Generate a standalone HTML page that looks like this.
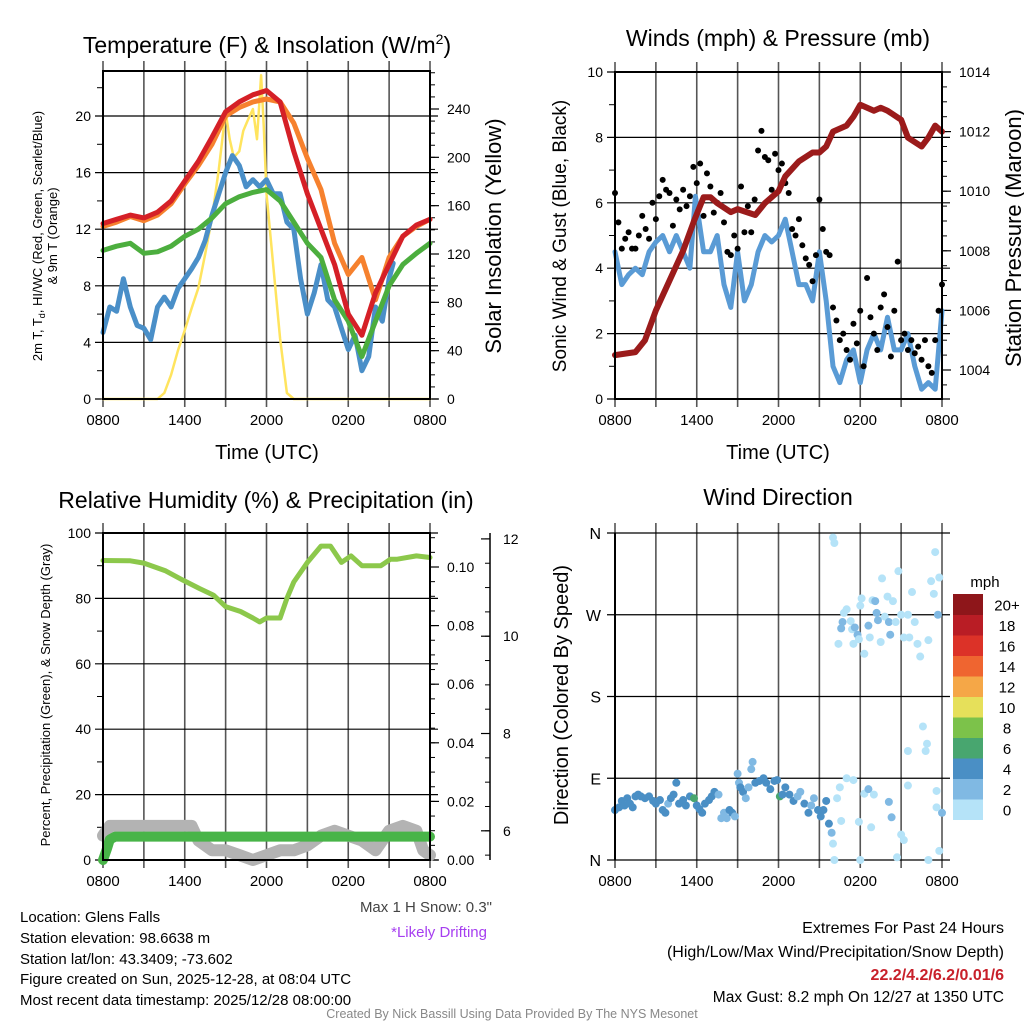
<!DOCTYPE html>
<html><head><meta charset="utf-8"><style>
html,body{margin:0;padding:0;background:#fff;}
svg{display:block;font-family:"Liberation Sans",Arial,sans-serif;}
</style></head><body>
<svg id="fig" width="1024" height="1024" viewBox="0 0 1024 1024" xmlns="http://www.w3.org/2000/svg">
<rect width="1024" height="1024" fill="#fff"/>
<g id="layer"></g>
<text x="267" y="53" font-size="23" text-anchor="middle">Temperature (F) &amp; Insolation (W/m<tspan font-size="14" dy="-9">2</tspan><tspan dy="9">)</tspan></text>
<text x="778" y="46" font-size="23" text-anchor="middle">Winds (mph) &amp; Pressure (mb)</text>
<text x="266" y="508" font-size="23" text-anchor="middle">Relative Humidity (%) &amp; Precipitation (in)</text>
<text x="778" y="505" font-size="23" text-anchor="middle">Wind Direction</text>
<text x="267" y="459" font-size="20" text-anchor="middle">Time (UTC)</text>
<text x="778" y="459" font-size="20" text-anchor="middle">Time (UTC)</text>
<text transform="translate(42,236) rotate(-90)" font-size="13" text-anchor="middle">2m T, T<tspan font-size="9" dy="3">d</tspan><tspan dy="-3">, HI/WC (Red, Green, Scarlet/Blue)</tspan></text>
<text transform="translate(57,236) rotate(-90)" font-size="13" text-anchor="middle">&amp; 9m T (Orange)</text>
<text transform="translate(501,236) rotate(-90)" font-size="22" text-anchor="middle">Solar Insolation (Yellow)</text>
<text transform="translate(566,236) rotate(-90)" font-size="19" text-anchor="middle">Sonic Wind &amp; Gust (Blue, Black)</text>
<text transform="translate(1021,238) rotate(-90)" font-size="22" text-anchor="middle">Station Pressure (Maroon)</text>
<text transform="translate(50,695) rotate(-90)" font-size="13" text-anchor="middle">Percent, Precipitation (Green), &amp; Snow Depth (Gray)</text>
<text transform="translate(568,695) rotate(-90)" font-size="20" text-anchor="middle">Direction (Colored By Speed)</text>
<text x="492" y="912" font-size="15" text-anchor="end" fill="#444">Max 1 H Snow: 0.3"</text>
<text x="487" y="937" font-size="15" text-anchor="end" fill="#a63ef0">*Likely Drifting</text>
<g font-size="15" fill="#000">
<text x="20" y="922">Location: Glens Falls</text>
<text x="20" y="943">Station elevation: 98.6638 m</text>
<text x="20" y="964">Station lat/lon: 43.3409; -73.602</text>
<text x="20" y="984">Figure created on Sun, 2025-12-28, at 08:04 UTC</text>
<text x="20" y="1005">Most recent data timestamp: 2025/12/28 08:00:00</text>
</g>
<g font-size="16" text-anchor="end">
<text x="1004" y="933">Extremes For Past 24 Hours</text>
<text x="1004" y="957">(High/Low/Max Wind/Precipitation/Snow Depth)</text>
<text x="1004" y="980" fill="#c8202a" font-weight="bold">22.2/4.2/6.2/0.01/6</text>
<text x="1004" y="1002" font-size="15.5">Max Gust: 8.2 mph On 12/27 at 1350 UTC</text>
</g>
<text x="512" y="1018" font-size="12.5" text-anchor="middle" fill="#888">Created By Nick Bassill Using Data Provided By The NYS Mesonet</text>
</svg>
<script>
// ---- Temperature panel data (hours after 0800 UTC) ----
const tempHours = [0,1,2,3,4,5,6,7,8,9,10,11,12,13,14,15,16,17,18,19,20,21,22,23,24];
const redT   = [12.4,12.7,13.0,12.8,13.2,14.0,15.4,16.8,18.5,20.3,21.0,21.5,21.8,21.0,17.5,14.5,12.0,9.5,6.0,4.5,7.5,9.5,11.5,12.3,12.7];
const orangeT= [12.2,12.5,12.9,12.6,13.0,13.8,15.2,16.5,18.0,20.0,20.6,21.0,21.2,21.0,19.5,17.0,14.8,11.0,8.8,10.0,7.0,10.0,11.5,12.2,12.7];
const greenT = [10.5,10.8,11.0,10.3,10.4,10.8,11.5,12.0,12.8,13.8,14.3,14.6,14.8,14.0,12.5,11.0,10.0,7.0,5.5,3.0,5.5,8.0,9.5,10.3,11.0];
const blueHours = [0,0.5,1,1.5,2,2.5,3,3.5,4,4.5,5,5.5,6,6.5,7,7.5,8,8.5,9,9.5,10,10.5,11,11.5,12,12.5,13,13.5,14,14.5,15,15.5,16,16.5,17,17.5,18,18.5,19,19.5,20,20.5,21,21.3];
const blueT  = [4.7,6.5,6.2,8.5,6.5,5.2,5.0,4.2,6.5,7.2,6.5,7.8,8.5,9.2,10.0,11.2,13.0,14.5,16.0,17.2,16.5,15.0,15.5,15.0,15.5,14.5,14.5,12.5,12.0,8.5,6.0,7.5,9.5,7.0,6.5,5.0,3.5,4.5,2.0,3.0,6.5,5.5,8.5,9.6];
const solarHours = [0,4,4.5,5,5.5,6,6.5,7,7.5,8,8.5,9,9.3,9.6,10,10.3,10.6,11,11.3,11.6,11.8,12,12.5,13,13.5,14,24];
const solarVal   = [0,0,5,20,40,57,75,92,120,150,190,238,215,200,205,222,230,240,215,268,225,170,110,50,5,0,0];
const tempTicks  = ["0","4","8","12","16","20"];
const solarTicks = ["0","40","80","120","160","200","240"];
const timeTicks  = ["0800","1400","2000","0200","0800"];
// ---- Winds panel data ----
const windHours = [0,0.5,1,1.5,2,2.5,3,3.5,4,4.5,5,5.5,5.9,6.5,7,7.5,8,8.5,9,9.5,10,10.5,11,11.5,12,12.5,13,13.5,14,14.5,15,15.5,16,16.5,17,17.5,18,18.5,19,19.5,20,20.5,21,21.5,22,22.5,23,23.5,24];
const windVal   = [4.5,3.5,3.8,4.0,3.8,4.5,4.8,5.0,4.5,5.0,4.5,4.0,6.2,4.5,4.5,5.0,3.5,2.8,4.5,3.0,3.5,4.5,5.0,4.8,5.0,5.5,4.5,3.5,3.5,3.0,4.5,3.0,1.0,0.5,1.2,1.5,0.5,1.5,2.0,1.5,2.5,1.5,1.5,2.0,1.0,0.3,0.5,0.3,2.7];
const gustVal = [6.3,5.4,4.6,4.9,5.1,4.6,4.6,5.0, 5.6,5.2,4.9,6.0,5.5,6.2,6.7,6.4, 6.3,5.3,6.1,5.8,6.4,5.9,6.2,7.1, 6.6,7.2,5.6,6.9,6.5,5.7,6.0,6.3, 5.4,4.5,4.4,5.0,4.6,6.5,5.1,5.9, 5.1,6.1,7.6,8.2,7.4,7.3,6.4,7.5, 7.0,7.2,6.6,6.3,5.2,5.0,5.5,4.7, 4.3,4.1,3.6,4.4,6.1,5.2,4.5,4.4, 2.8,2.4,1.8,2.0,1.5,1.2,2.3,1.7, 2.7,1.0,3.7,2.5,2.0,1.5,2.8,3.2, 2.2,1.3,2.7,4.2,1.8,2.0,1.5,1.8, 1.4,1.6,1.2,1.8,1.0,0.8,1.8,2.7,3.5];
const presHours = [0,1.5,2.2,3,4,5,5.8,6.5,7,7.5,8.5,9,10.3,11,12,12.5,13.5,14.5,15,15.5,16,17,17.5,18,19,19.5,20,21,21.5,22.5,23,23.5,24];
const presVal   = [1004.5,1004.6,1005,1006,1007,1008,1009,1009.8,1009.8,1009.6,1009.3,1009.4,1009.2,1009.6,1010.0,1010.5,1011,1011.3,1011.3,1011.5,1012,1012.2,1012.5,1012.9,1012.7,1012.8,1012.7,1012.4,1011.8,1011.5,1011.8,1012.2,1012.0];
const windTicks = ["0","2","4","6","8","10"];
const presTicks = ["1004","1006","1008","1010","1012","1014"];
// ---- RH panel data ----
const rhHours = [0,2,3,4.6,5.9,7.1,8.1,9.0,10.1,11.0,11.5,12.0,13.0,13.5,14.0,15.0,16.0,16.7,17.5,18.2,19.0,19.7,20.4,21.1,21.6,23.0,24.0];
const rhVal   = [91.6,91.5,90.8,88.4,85.5,83,81,77.5,76,74,72.8,74,74,80,85,91,96,96,91,93,90,90,90,92,92,93,92.5];
const precipHours = [0,0.3,0.5,0.9,24];
const precipVal   = [0,0.004,0.007,0.008,0.008];
const snowHours = [0,0.5,1,3,6.5,7,8,9,10,11,12,13,14,15,16,17,18,19,20,21,22,23,23.5,24];
const snowVal   = [5.9,6.1,6.1,6.1,6.1,5.8,5.6,5.6,5.5,5.4,5.5,5.6,5.6,5.7,5.9,6.0,5.9,5.8,5.6,6.0,6.1,6.0,5.6,5.5];
const rhTicks = ["0","20","40","60","80","100"];
const precipTicks = ["0.00","0.02","0.04","0.06","0.08","0.10"];
const snowTicks = ["6","8","10","12"];
// ---- Wind direction data ----
const dirHours = [0.0,0.3,0.5,0.7,0.9,1.1,1.3,1.5,1.7,1.9,2.2,2.5,2.8,3.0,3.3,3.5,3.7,3.9,4.1,4.3,4.5,4.7,5.0,5.2,5.5,5.8,6.0,6.2,6.4,6.6,6.9,7.1,7.3,7.6,7.8,8.0,8.2,8.4,8.6,8.8,9.0,9.1,9.2,9.4,9.6,9.8,10.0,10.1,10.3,10.6,10.9,11.1,11.4,11.7,11.9,12.1,12.3,12.5,12.8,13.1,13.4,13.6,13.9,14.2,14.4,14.6,14.9,15.1,15.3,15.5,15.7,15.9,16.0,16.1,16.3,16.5,16.6,17.0,17.5,17.9,18.0,18.3,18.6,18.8,19.0,20.1,20.3,20.7,21.0,21.2,21.5,21.5,23.0,23.8,24.0,23.6,23.6,
16.0,16.1,16.4,16.6,16.7,16.8,17.0,17.3,17.4,17.5,17.6,17.8,17.9,18.0,18.1,18.3,18.6,18.7,18.9,19.1,19.2,19.3,19.5,19.6,19.8,20.0,20.1,20.2,20.4,20.6,20.8,21.0,21.2,21.5,21.6,21.8,22.0,22.2,22.4,22.6,22.8,22.9,23.0,23.2,23.4,23.5,23.7,23.8];
const dirVal = [55,58,65,60,68,62,58,70,72,70,68,70,65,62,66,55,52,62,68,72,85,62,66,60,70,68,60,56,52,62,66,70,75,72,46,52,46,55,52,48,95,85,80,75,68,80,100,108,85,87,90,85,78,87,88,70,72,80,72,65,70,75,62,52,60,68,55,48,55,65,40,30,18,0,68,80,43,90,88,42,0,73,78,36,72,64,47,3,28,22,82,120,0,10,52,58,76,
355,349,238,255,262,272,276,263,254,238,256,248,243,280,288,227,258,245,286,285,272,264,240,310,268,290,262,248,285,262,318,270,245,270,245,295,262,238,224,147,120,128,242,307,293,339,270,311];
const dirSpeed = [4.5,4.5,4.5,4.5,4.5,4.5,4.5,4.5,4.5,4.5,4.5,4.5,4.5,4.5,4.5,4.5,4.5,2.5,4.5,4.5,4.5,4.5,4.5,4.5,4.5,6.5,4.5,4.5,4.5,4.5,4.5,4.5,4.5,2.5,2.5,2.5,2.5,4.5,4.5,2.5,2.5,2.5,4.5,4.5,2.5,2.5,2.5,2.5,4.5,4.5,4.5,4.5,4.5,4.5,4.5,6.5,4.5,4.5,4.5,4.5,2.5,2.5,4.5,4.5,2.5,2.5,4.5,4.5,4.5,4.5,4.5,2.5,1,1,1,1,1,1,1,1,1,1,2.5,1,1,2.5,2.5,1,1,1,1,1,1,1,2.5,1,1,
1,1,1,2.5,2.5,1,1,1,1,1,2.5,2.5,1,1,1,1,2.5,1,1,2.5,2.5,2.5,1,1,1,1,2.5,2.5,1,1,1,1,1,1,1,1,1,1,1,1,1,1,1,1,1,1,2.5,1];
const dirTicks = ["N","E","S","W","N"];
const speedBinLabels = ["0","2","4","6","8","10","12","14","16","18","20+"];
const speedBinColors = ["#b5e3f8","#80b9e3","#4a8fc5","#48a66f","#7cc24a","#e6e05a","#f5a747","#ef6530","#dc3228","#b91d25","#8e161a"];

const NS="http://www.w3.org/2000/svg";
const layer=document.getElementById('layer');
function mk(tag,attrs,parent){const e=document.createElementNS(NS,tag);for(const k in attrs)e.setAttribute(k,attrs[k]);(parent||layer).appendChild(e);return e;}
function txt(x,y,s,size,anchor,parent){const t=mk('text',{x:x,y:y,'font-size':size,'text-anchor':anchor||'middle'},parent);t.textContent=s;return t;}

function panel(name,x0,x1,y0,y1){
  const g=mk('g',{});
  
  
  const P={g,x0,x1,y0,y1,hx:h=>x0+h/24*(x1-x0)};
  // vertical grid every 3h
  for(let i=0;i<=8;i++){const x=x0+i*(x1-x0)/8;mk('line',{x1:x,y1:y0-10,x2:x,y2:y1+8,stroke:'#555','stroke-width':1.6},g);}
  timeTicks.forEach((s,i)=>txt(x0+i*(x1-x0)/4,y1+26,s,15,'middle',g));
  return P;
}
function hgrid(P,ys,extend){ys.forEach(y=>mk('line',{x1:P.x0-8,y1:y,x2:P.x1+(extend||8),y2:y,stroke:'#000','stroke-width':1.2},P.g));}
function frame(P){mk('rect',{x:P.x0,y:P.y0,width:P.x1-P.x0,height:P.y1-P.y0,fill:'none',stroke:'#000','stroke-width':2},P.g);}
function line(P,hs,vs,fy,color,w,name){
  const pts=hs.map((h,i)=>P.hx(h).toFixed(1)+','+fy(vs[i]).toFixed(1)).join(' ');
  const l=mk('polyline',{points:pts,fill:'none',stroke:color,'stroke-width':w,'stroke-linejoin':'round','stroke-linecap':'round'},P.g);
  
  
  return l;
}
function minorTicks(P,x,ys,dir,len){ys.forEach(y=>mk('line',{x1:x,y1:y,x2:x+dir*len,y2:y,stroke:'#000','stroke-width':1},P.g));}

// ===== Temperature panel =====
(function(){
  const P=panel('temperature-panel',103,430,71,399);
  const ty=v=>399-v*(399-116)/20;
  const sy=v=>399-v*(399-109)/240;
  hgrid(P,tempTicks.map(s=>ty(+s)));
  tempTicks.forEach(s=>txt(P.x0-12,ty(+s)+5,s,14,'end',P.g));
  const mt=[];for(let v=2;v<23;v+=4)mt.push(ty(v));minorTicks(P,P.x0,mt,-1,6);
  const ms=[];for(let v=10;v<272;v+=10)ms.push(sy(v));minorTicks(P,P.x1,ms,1,5);
  solarTicks.forEach(s=>{mk('line',{x1:P.x1,y1:sy(+s),x2:P.x1+9,y2:sy(+s),stroke:'#000','stroke-width':1.2},P.g);txt(P.x1+17,sy(+s)+5,s,14,'start',P.g);});
  line(P,solarHours,solarVal,sy,'#ffe45e',2.5,'solar-insolation-line');
  line(P,blueHours,blueT,ty,'#4a8fc8',5,'wind-chill-line');
  line(P,tempHours,greenT,ty,'#4cae3e',5,'dewpoint-line');
  line(P,tempHours,orangeT,ty,'#f6812e',5,'temp-9m-line');
  line(P,tempHours,redT,ty,'#d52027',5,'temp-2m-line');
  frame(P);
})();

// ===== Winds panel =====
(function(){
  const P=panel('winds-panel',615,942,72,399);
  const wy=v=>399-v*(399-72)/10;
  const py=v=>72+(1014-v)*29.8;
  hgrid(P,windTicks.map(s=>wy(+s)));
  windTicks.forEach(s=>txt(P.x0-12,wy(+s)+5,s,14,'end',P.g));
  const mw=[];for(let v=1;v<10;v+=2)mw.push(wy(v));minorTicks(P,P.x0,mw,-1,6);
  const mp=[];for(let v=1003.5;v<1014;v+=0.5)mp.push(py(v));minorTicks(P,P.x1,mp,1,5);
  presTicks.forEach(s=>{mk('line',{x1:P.x1,y1:py(+s),x2:P.x1+9,y2:py(+s),stroke:'#000','stroke-width':1.2},P.g);txt(P.x1+17,py(+s)+5,s,14,'start',P.g);});
  line(P,windHours,windVal,wy,'#5a9bd5',5,'sonic-wind-line');
  gustVal.forEach((v,i)=>{
    const c=mk('circle',{cx:P.hx(i*0.25),cy:wy(v),r:3,fill:'#000'},P.g);
    
    
  });
  line(P,presHours,presVal,py,'#9b1b1b',6,'pressure-line');
  frame(P);
})();

// ===== RH panel =====
(function(){
  const P=panel('humidity-panel',103,430,533,860);
  const ry=v=>860-v*(860-533)/100;
  const pcy=v=>860-v*2930;
  const sny=v=>860-(v-5.4)*48.65;
  hgrid(P,rhTicks.map(s=>ry(+s)));
  rhTicks.forEach(s=>txt(P.x0-12,ry(+s)+5,s,14,'end',P.g));
  const mr=[];for(let v=10;v<100;v+=20)mr.push(ry(v));minorTicks(P,P.x0,mr,-1,6);
  const mpc=[];for(let v=0.005;v<0.112;v+=0.005)mpc.push(pcy(v));minorTicks(P,P.x1,mpc,1,5);
  precipTicks.forEach(s=>{mk('line',{x1:P.x1,y1:pcy(+s),x2:P.x1+9,y2:pcy(+s),stroke:'#000','stroke-width':1.2},P.g);txt(P.x1+17,pcy(+s)+5,s,14,'start',P.g);});
  const ax=490;
  mk('line',{x1:ax,y1:533,x2:ax,y2:860,stroke:'#000','stroke-width':1.5},P.g);
  const msn=[];for(let v=5.5;v<12.1;v+=0.5)msn.push(sny(v));minorTicks(P,ax,msn,-1,5);
  snowTicks.forEach(s=>{mk('line',{x1:ax,y1:sny(+s),x2:ax-9,y2:sny(+s),stroke:'#000','stroke-width':1.2},P.g);txt(ax+13,sny(+s)+5,s,14,'start',P.g);});
  line(P,snowHours,snowVal,sny,'#b3b3b3',12,'snow-depth-line');
  line(P,rhHours,rhVal,ry,'#8cc84b',5,'relative-humidity-line');
  line(P,precipHours,precipVal,pcy,'#48b448',10,'precipitation-line');
  frame(P);
})();

// ===== Wind direction panel =====
(function(){
  const P=panel('wind-direction-panel',615,942,533,860);
  const dy=v=>860-v/360*(860-533);
  hgrid(P,dirTicks.map((s,i)=>dy(i*90)));
  dirTicks.forEach((s,i)=>txt(P.x0-14,dy(i*90)+6,s,16,'end',P.g));
  const binOf=s=>Math.min(10,Math.floor(s/2));
  dirVal.forEach((v,i)=>{
    const c=mk('circle',{cx:P.hx(dirHours[i]),cy:dy(v),r:4,fill:speedBinColors[binOf(dirSpeed[i])]},P.g);
    
    
  });
  mk('line',{x1:P.x0,y1:P.y0,x2:P.x0,y2:P.y1,stroke:'#000','stroke-width':2},P.g);
  // colorbar
  const cb=mk('g',{});
  
  
  const top=594,bh=20.5;
  txt(985,587,'mph',15,'middle',cb);
  for(let i=0;i<11;i++){
    const y=top+(10-i)*bh;
    const r=mk('rect',{x:953,y:y,width:30,height:bh+0.5,fill:speedBinColors[i]},cb);
    
    
    txt(1007,y+bh/2+6,speedBinLabels[i],15,'middle',cb);
  }
})();
</script>
</body></html>
